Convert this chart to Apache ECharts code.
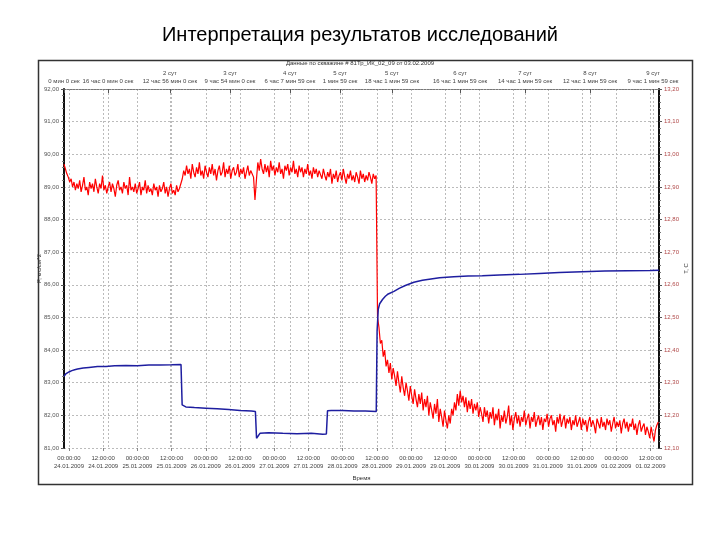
<!DOCTYPE html>
<html>
<head>
<meta charset="utf-8">
<script src="https://cdn.jsdelivr.net/npm/echarts@6/dist/echarts.min.js"></script>
<style>
html,body{margin:0;padding:0;background:#fff;}
#chart{width:720px;height:540px;}
</style>
</head>
<body>
<div id="chart"></div>
<script>
// ---- data (hours from 24.01.2009 00:00) ----
const pageTitle = 'Интерпретация результатов исследований';
const chartSubtitle = 'Данные по скважине # 81Тр_ИК_02_09 от 03.02.2009';
const leftAxisName = 'P, кгс/см^2';
const rightAxisName = 'Т, С';
const bottomAxisName = 'Время';

const xMinHour = -1.75;
const xMaxHour = 207;

const bottomTickHours = [0,12,24,36,48,60,72,84,96,108,120,132,144,156,168,180,192,204];

const topTickHours = [-1.75, 13.7, 35.4, 56.5, 77.5, 95.1, 113.3, 137.2, 160, 182.8, 204.9];
const topTickLabels = [
  '0 мин 0 сек',
  '16 час 0 мин 0 сек',
  '2 сут\n12 час 56 мин 0 сек',
  '3 сут\n9 час 54 мин 0 сек',
  '4 сут\n6 час 7 мин 59 сек',
  '5 сут\n1 мин 59 сек',
  '5 сут\n18 час 1 мин 59 сек',
  '6 сут\n16 час 1 мин 59 сек',
  '7 сут\n14 час 1 мин 59 сек',
  '8 сут\n12 час 1 мин 59 сек',
  '9 сут\n9 час 1 мин 59 сек'
];

// Temperature (right axis), one reading every half hour starting at redStartHour
const redStartHour = -1.75;
const redStepHours = 0.5;
const redValues = [
  12.97,12.955,12.94,12.93,12.915,12.925,12.90,12.915,12.89,12.91,
  12.895,12.92,12.885,12.905,12.93,12.89,12.90,12.875,12.915,12.895,
  12.91,12.885,12.925,12.90,12.88,12.91,12.895,12.935,12.89,12.905,
  12.88,12.90,12.915,12.885,12.91,12.895,12.87,12.905,12.92,12.89,
  12.90,12.88,12.915,12.895,12.905,12.875,12.93,12.89,12.90,12.885,
  12.91,12.88,12.895,12.915,12.875,12.90,12.89,12.92,12.88,12.905,
  12.885,12.895,12.875,12.91,12.89,12.90,12.87,12.905,12.885,12.895,
  12.915,12.88,12.90,12.87,12.895,12.91,12.88,12.89,12.875,12.905,
  12.885,12.895,12.90,
  12.925,12.95,12.935,12.965,12.94,12.955,12.925,12.97,12.945,12.93,
  12.96,12.94,12.975,12.935,12.95,12.925,12.965,12.945,12.93,12.96,
  12.94,12.97,12.935,12.955,12.92,12.95,12.965,12.935,12.945,12.975,
  12.93,12.955,12.94,12.965,12.925,12.95,12.96,12.935,12.945,12.97,
  12.93,12.955,12.94,12.96,12.925,12.945,12.965,12.935,12.95,12.94,12.93,
  12.86,12.92,
  12.975,12.95,12.985,12.955,12.94,12.97,12.945,12.965,12.93,12.98,
  12.95,12.965,12.935,12.96,12.945,12.975,12.94,12.955,12.925,12.965,
  12.95,12.97,12.935,12.96,12.945,12.98,12.94,12.955,12.93,12.965,
  12.945,12.96,12.93,12.955,12.94,12.97,12.935,12.95,12.925,12.96,
  12.94,12.955,12.93,12.95,12.945,12.925,12.955,12.935,
  12.92,12.945,12.93,12.955,12.91,12.94,12.925,12.95,12.915,12.935,
  12.945,12.92,12.955,12.93,12.91,12.94,12.925,12.95,12.92,12.935,
  12.915,12.945,12.93,12.91,12.95,12.925,12.94,12.915,12.935,12.92,
  12.945,12.93,12.91,12.94,12.925,12.935,
  12.50,12.47,12.42,12.43,12.38,12.40,12.35,12.37,12.33,12.36,
  12.31,12.345,12.32,12.29,12.335,12.30,12.27,12.32,12.285,12.26,
  12.30,12.275,12.245,12.29,12.26,12.235,12.28,12.25,12.225,12.265,
  12.235,12.27,12.215,12.25,12.225,12.26,12.20,12.24,12.215,12.19,
  12.235,12.205,12.25,12.18,12.22,12.195,12.165,12.215,12.185,12.16,
  12.20,12.175,12.22,12.20,12.24,12.215,12.265,12.23,12.275,12.24,
  12.26,12.225,12.255,12.21,12.245,12.22,12.25,12.205,12.235,12.215,
  12.24,12.195,12.225,12.205,12.18,12.225,12.195,12.215,12.175,12.21,
  12.19,12.225,12.17,12.205,12.185,12.22,12.16,12.20,12.18,12.215,
  12.175,12.195,12.23,12.17,12.20,12.155,12.19,12.21,12.175,12.20,
  12.165,12.195,12.18,12.215,12.17,12.19,12.205,12.16,12.195,12.18,
  12.21,12.165,12.185,12.20,12.17,12.195,12.155,12.19,12.18,12.205,
  12.165,12.19,12.20,12.17,12.185,12.15,12.195,12.175,12.205,12.165,
  12.185,12.20,12.16,12.19,12.175,12.195,12.155,12.185,12.17,12.20,
  12.165,12.18,12.195,12.155,12.19,12.17,12.185,12.15,12.18,12.195,
  12.165,12.185,12.17,12.145,12.19,12.175,12.16,12.195,12.165,12.18,
  12.155,12.19,12.17,12.185,12.15,12.175,12.195,12.16,12.18,12.165,
  12.185,12.145,12.175,12.19,12.16,12.18,12.15,12.175,12.165,12.19,
  12.155,12.175,12.14,12.17,12.185,12.15,12.165,12.175,12.14,12.165,
  12.15,12.13,12.165,12.14,12.12,12.155,12.17,12.18
];

// Pressure (left axis)
const blueHours = [-1.75,-1,0,1,2,3,5,7,10,13,16,20,24,28,32,36,39.3,
  39.7,41,44,48,52,56,60,64,65.4,
  65.8,66.3,67,70,75,80,85,89,90.3,
  90.7,92,96,100,104,107.8,
  108.1,108.5,109,110,111,112,114,116,118,121,124,127,130,135,140,145,151,158,165,172,180,188,196,204,207];
const blueValues = [83.20,83.28,83.33,83.37,83.40,83.42,83.45,83.47,83.50,83.50,83.52,83.53,83.52,83.54,83.54,83.55,83.56,
  82.32,82.26,82.24,82.22,82.20,82.18,82.15,82.13,82.12,
  81.30,81.35,81.45,81.47,81.45,81.44,81.45,81.42,81.43,
  82.14,82.15,82.15,82.13,82.13,82.12,
  84.60,85.25,85.42,85.55,85.65,85.72,85.80,85.90,85.98,86.08,86.14,86.18,86.22,86.25,86.27,86.28,86.30,86.32,86.35,86.38,86.40,86.42,86.43,86.44,86.45];

// ---- build ----
const redData = redValues.map((v, i) => [redStartHour + i * redStepHours, v]);
const blueData = blueHours.map((h, i) => [h, blueValues[i]]);

const pad = n => (n < 10 ? '0' : '') + n;
function fmtBottom(v) {
  const d = new Date(Date.UTC(2009, 0, 24) + Math.round(v * 3600000));
  return pad(d.getUTCHours()) + ':' + pad(d.getUTCMinutes()) + ':' + pad(d.getUTCSeconds()) + '\n' +
    pad(d.getUTCDate()) + '.' + pad(d.getUTCMonth() + 1) + '.' + d.getUTCFullYear();
}
function fmtTop(v) {
  let best = 0, bd = Infinity;
  topTickHours.forEach((h, i) => { const dd = Math.abs(h - v); if (dd < bd) { bd = dd; best = i; } });
  return topTickLabels[best];
}
const comma = (v, d) => v.toFixed(d).replace('.', ',');

const FONT = '"Liberation Sans", Arial, sans-serif';
const chart = echarts.init(document.getElementById('chart'), null, { renderer: 'canvas' });

chart.setOption({
  animation: false,
  backgroundColor: '#ffffff',
  textStyle: { fontFamily: FONT },
  title: [
    { text: pageTitle, left: 'center', top: 20,
      textStyle: { fontFamily: FONT, fontSize: 20, fontWeight: 'normal', color: '#000' } },
    { text: chartSubtitle, left: 'center', top: 60, padding: 0,
      textStyle: { fontFamily: FONT, fontSize: 6, fontWeight: 'normal', color: '#333' } }
  ],
  graphic: [
    { type: 'rect', left: 36, top: 58, shape: { width: 654, height: 424 },
      style: { fill: 'none', stroke: '#333', lineWidth: 1.5 }, z: 0 }
  ],
  grid: { left: 64, right: 61, top: 89, bottom: 92, containLabel: false },
  xAxis: [
    {
      type: 'value', position: 'bottom', min: xMinHour, max: xMaxHour,
      name: bottomAxisName, nameLocation: 'middle', nameGap: 27,
      nameTextStyle: { fontSize: 6, color: '#333' },
      axisLine: { show: false },
      axisTick: { show: true, customValues: bottomTickHours, length: 3, lineStyle: { color: '#888' } },
      axisLabel: { customValues: bottomTickHours, formatter: fmtBottom, fontSize: 6, color: '#444', lineHeight: 8, margin: 6 },
      splitLine: { show: true, lineStyle: { color: '#bbb', type: [2, 2], width: 1 } }
    },
    {
      type: 'value', position: 'top', min: xMinHour, max: xMaxHour,
      axisLine: { show: true, lineStyle: { color: '#777', width: 1, type: [2, 1] } },
      axisTick: { show: true, inside: true, customValues: topTickHours, length: 4, lineStyle: { color: '#555' } },
      axisLabel: { customValues: topTickHours, formatter: fmtTop, fontSize: 6, color: '#444', lineHeight: 8, margin: 4 },
      splitLine: { show: true, lineStyle: { color: '#bbb', type: [2, 2], width: 1 } }
    }
  ],
  yAxis: [
    {
      type: 'value', position: 'left', min: 81, max: 92, interval: 1,
      name: leftAxisName, nameLocation: 'middle', nameGap: 22, nameRotate: 90, nameMoveOverlap: false,
      nameTextStyle: { fontSize: 6, color: '#333' },
      axisLine: { show: true, onZero: false, lineStyle: { color: '#111', width: 2 } },
      axisTick: { show: true, length: 3, lineStyle: { color: '#555' } },
      minorTick: { show: true, splitNumber: 5, length: 2, lineStyle: { color: '#777' } },
      axisLabel: { formatter: v => comma(v, 2), fontSize: 6, color: '#555', margin: 5 },
      splitLine: { show: true, lineStyle: { color: '#bbb', type: [2, 2], width: 1 } }
    },
    {
      type: 'value', position: 'right', min: 12.1, max: 13.2, interval: 0.1,
      name: rightAxisName, nameLocation: 'middle', nameGap: 24, nameRotate: 90, nameMoveOverlap: false,
      nameTextStyle: { fontSize: 6, color: '#333' },
      axisLine: { show: true, onZero: false, lineStyle: { color: '#111', width: 2 } },
      axisTick: { show: true, length: 3, lineStyle: { color: '#555' } },
      minorTick: { show: true, splitNumber: 5, length: 2, lineStyle: { color: '#777' } },
      axisLabel: { formatter: v => comma(v, 2), fontSize: 6, color: '#b04848', margin: 5 },
      splitLine: { show: false }
    }
  ],
  series: [
    {
      type: 'line', name: 'T', xAxisIndex: 0, yAxisIndex: 1, data: redData,
      showSymbol: false, symbol: 'none', sampling: null,
      lineStyle: { color: '#ff0000', width: 1.2 }, z: 3
    },
    {
      type: 'line', name: 'P', xAxisIndex: 0, yAxisIndex: 0, data: blueData,
      showSymbol: false, symbol: 'none',
      lineStyle: { color: '#1e1ea0', width: 1.5 }, z: 4
    }
  ]
});
</script>
</body>
</html>
